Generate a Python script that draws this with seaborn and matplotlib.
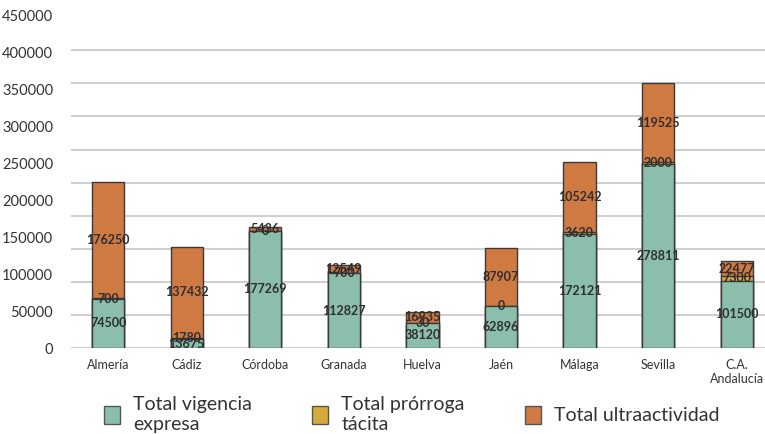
import matplotlib
matplotlib.use("Agg")
import matplotlib.pyplot as plt
from matplotlib.patches import Patch
import numpy as np
import pandas as pd
import seaborn as sns

provinces = ["Almería", "Cádiz", "Córdoba", "Granada", "Huelva",
             "Jaén", "Málaga", "Sevilla", "C.A.\nAndalucía"]
vigencia_expresa = [74500, 13675, 177269, 112827, 38120, 62896, 172121, 278811, 101500]
prorroga_tacita = [700, 1780, 0, 700, 30, 0, 3620, 2000, 7300]
ultraactividad = [176250, 137432, 5436, 12549, 16935, 87907, 105242, 119525, 22477]
y_ticks = [0, 50000, 100000, 150000, 200000, 250000, 300000, 350000, 400000, 450000]

series_names = ["Total vigencia\nexpresa", "Total prórroga\ntácita", "Total ultraactividad"]
colors = ["#8bbfab", "#d4aa3a", "#d07a43"]

df = pd.DataFrame({
    "prov": provinces,
    "v": vigencia_expresa,
    "p": prorroga_tacita,
    "u": ultraactividad,
})
df["c1"] = df["v"]
df["c2"] = df["v"] + df["p"]
df["c3"] = df["c2"] + df["u"]

sns.set_style("white")
plt.rcParams["font.family"] = ["Lato", "DejaVu Sans"]

fig = plt.figure(figsize=(7.65, 4.34), dpi=100)
ax = fig.add_axes([0.093, 0.198, 0.907, 0.793])

# gridlines at the real scale
for v in y_ticks:
    ax.axhline(v, color="#c6c6c6", lw=1.2, zorder=0)

# stacked bars: draw cumulative totals from top to bottom
for col, colr in zip(["c3", "c2", "c1"], colors[::-1]):
    sns.barplot(data=df, x="prov", y=col, color=colr, width=0.41, saturation=1,
                edgecolor="#3a3a3a", linewidth=1.0, ax=ax, zorder=2)

# segment labels centred in each segment
lab_kw = dict(ha="center", va="center", fontsize=9, fontweight="bold",
              color="#2e2e2e", zorder=5)
for i, r in df.iterrows():
    ax.text(i, r["v"] / 2, str(r["v"]), **lab_kw)
    ax.text(i, r["c1"] + r["p"] / 2, str(r["p"]), **lab_kw)
    ax.text(i, r["c2"] + r["u"] / 2, str(r["u"]), **lab_kw)

ax.set_xlim(-0.47, 8.36)
ax.set_ylim(0, 520000)
# tick labels in the source are spread wider than the gridlines
ax.set_yticks([v * 1.115 for v in y_ticks])
ax.set_yticklabels([str(v) for v in y_ticks], fontsize=10.5, color="#333333")
ax.tick_params(axis="y", length=0, pad=13)
ax.tick_params(axis="x", length=0, pad=8, labelsize=9, labelcolor="#333333")
ax.set_xlabel("")
ax.set_ylabel("")
sns.despine(ax=ax, left=True, bottom=True)

handles = [Patch(facecolor=c, edgecolor="#555555", linewidth=1.0) for c in colors]
fig.legend(handles, series_names, loc="center left", bbox_to_anchor=(0.113, 0.045),
           ncol=3, frameon=False, fontsize=14, handlelength=0.8, handleheight=1.0,
           handletextpad=0.7, columnspacing=3.1, labelcolor="#333333")

fig.savefig("out.png", dpi=100)
